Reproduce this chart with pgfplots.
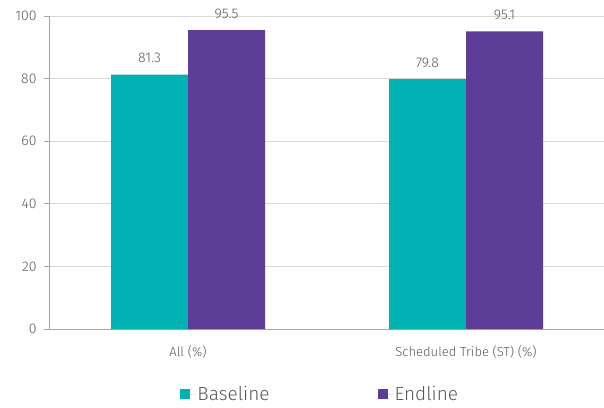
\documentclass[border=0pt]{standalone}
\usepackage{pgfplots}
\pgfplotsset{compat=1.18}
\usepackage{fontspec}
\setmainfont{Fira Sans Light}
\definecolor{teal1}{HTML}{00B2B4}
\definecolor{purp}{HTML}{5C3D97}
\definecolor{txt}{HTML}{595959}
\definecolor{grd}{HTML}{D9D9D9}
\definecolor{axc}{HTML}{A6A6A6}
\begin{document}
\begin{tikzpicture}
\begin{axis}[
  anchor=south west, at={(0pt,0pt)},
  scale only axis,
  width=556pt, height=313pt,
  ybar=0pt, bar width=77pt,
  xmin=-0.5, xmax=1.5,
  ymin=0, ymax=100,
  ytick={0,20,40,60,80,100},
  xtick={0,1},
  xticklabels={All (\%), Scheduled Tribe (ST) (\%)},
  major x tick style={draw=none},
  extra x ticks={-0.5,0.5},
  extra x tick labels={},
  extra x tick style={major tick length=5pt, tick style={draw=axc}, grid=none},
  tick align=outside,
  major tick length=5pt,
  axis lines*=left,
  axis line style={draw=axc, line width=0.8pt},
  tick style={draw=axc, line width=0.8pt},
  ymajorgrids, grid style={draw=grd, line width=0.8pt},
  tick label style={font=\fontsize{14}{16}\selectfont, text=txt},
  yticklabel style={xshift=-4pt},
  x tick label style={font=\fontsize{13}{15}\selectfont, text=txt, yshift=-8pt},
  /pgf/number format/assume math mode=true,
  nodes near coords,
  nodes near coords style={font=\fontsize{14}{16}\selectfont, text=txt, yshift=8pt},
  every node near coord/.append style={/pgf/number format/.cd, fixed, precision=1},
  legend style={at={(0.487,-0.17)}, anchor=north, draw=none, legend columns=2,
    font=\fontsize{19}{21}\selectfont, text=txt, nodes={inner xsep=1pt},
    /tikz/every even column/.append style={column sep=107pt}},
  legend image code/.code={\fill[#1] (0pt,-5pt) rectangle (10pt,5pt); \path (10pt,0pt) -- (16pt,0pt);},
]
\addplot[fill=teal1, draw=none] coordinates {(0,81.3) (1,79.8)};
\addplot[fill=purp, draw=none] coordinates {(0,95.5) (1,95.1)};
\legend{Baseline, Endline}
\end{axis}
\pgfresetboundingbox
\path (-49pt,-78pt) rectangle (555pt,329pt);
\end{tikzpicture}
\end{document}
